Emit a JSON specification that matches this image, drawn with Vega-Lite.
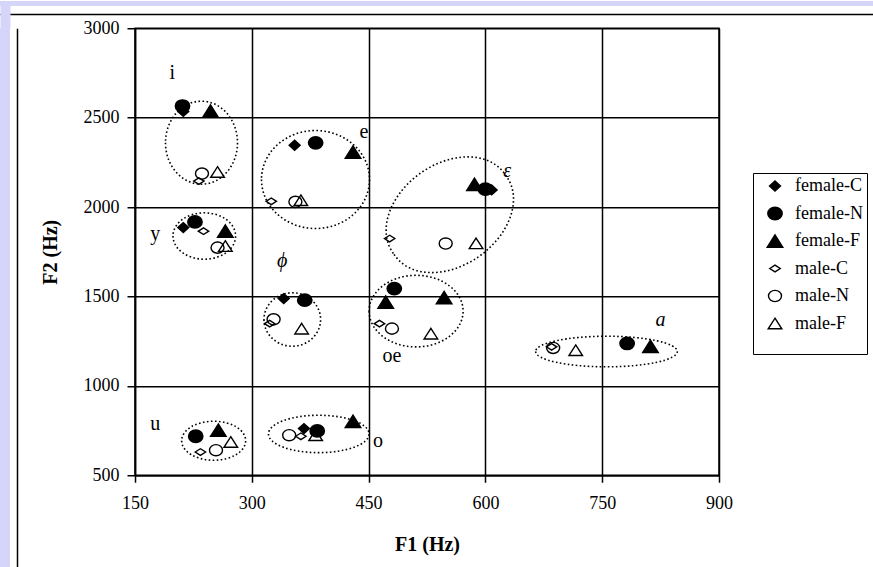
{
  "$schema": "https://vega.github.io/schema/vega-lite/v6.json",
  "background": "white",
  "padding": 0,
  "spacing": -13.75,
  "config": {"view": {"stroke": null}, "font": "Liberation Serif"},
  "datasets": {
    "points": [
      {"vowel": "i", "series": "female-C", "f1": 212, "f2": 2535},
      {"vowel": "i", "series": "female-N", "f1": 211, "f2": 2565},
      {"vowel": "i", "series": "female-F", "f1": 247, "f2": 2537},
      {"vowel": "i", "series": "male-C", "f1": 232, "f2": 2145},
      {"vowel": "i", "series": "male-N", "f1": 236, "f2": 2187},
      {"vowel": "i", "series": "male-F", "f1": 256, "f2": 2196},
      {"vowel": "e", "series": "female-C", "f1": 355, "f2": 2346},
      {"vowel": "e", "series": "female-N", "f1": 382, "f2": 2359},
      {"vowel": "e", "series": "female-F", "f1": 430, "f2": 2308},
      {"vowel": "e", "series": "male-C", "f1": 325, "f2": 2032},
      {"vowel": "e", "series": "male-N", "f1": 356, "f2": 2029},
      {"vowel": "e", "series": "male-F", "f1": 363, "f2": 2038},
      {"vowel": "y", "series": "female-C", "f1": 212, "f2": 1885},
      {"vowel": "y", "series": "female-N", "f1": 227, "f2": 1917},
      {"vowel": "y", "series": "female-F", "f1": 266, "f2": 1866},
      {"vowel": "y", "series": "male-C", "f1": 238, "f2": 1865},
      {"vowel": "y", "series": "male-N", "f1": 256, "f2": 1773},
      {"vowel": "y", "series": "male-F", "f1": 266, "f2": 1782},
      {"vowel": "ε", "series": "female-C", "f1": 608, "f2": 2096},
      {"vowel": "ε", "series": "female-N", "f1": 600, "f2": 2100},
      {"vowel": "ε", "series": "female-F", "f1": 586, "f2": 2127},
      {"vowel": "ε", "series": "male-C", "f1": 477, "f2": 1824},
      {"vowel": "ε", "series": "male-N", "f1": 549, "f2": 1796},
      {"vowel": "ε", "series": "male-F", "f1": 588, "f2": 1797},
      {"vowel": "ϕ", "series": "female-C", "f1": 341, "f2": 1488},
      {"vowel": "ϕ", "series": "female-N", "f1": 368, "f2": 1479},
      {"vowel": "ϕ", "series": "male-C", "f1": 323, "f2": 1348},
      {"vowel": "ϕ", "series": "male-N", "f1": 328, "f2": 1372},
      {"vowel": "ϕ", "series": "male-F", "f1": 364, "f2": 1320},
      {"vowel": "oe", "series": "female-N", "f1": 483, "f2": 1544},
      {"vowel": "oe", "series": "female-F", "f1": 472, "f2": 1469},
      {"vowel": "oe", "series": "female-F", "f1": 547, "f2": 1494},
      {"vowel": "oe", "series": "male-C", "f1": 464, "f2": 1348},
      {"vowel": "oe", "series": "male-N", "f1": 480, "f2": 1320},
      {"vowel": "oe", "series": "male-F", "f1": 530, "f2": 1292},
      {"vowel": "a", "series": "male-C", "f1": 685, "f2": 1218},
      {"vowel": "a", "series": "male-N", "f1": 687, "f2": 1212},
      {"vowel": "a", "series": "male-F", "f1": 716, "f2": 1199},
      {"vowel": "a", "series": "female-N", "f1": 782, "f2": 1237},
      {"vowel": "a", "series": "female-F", "f1": 812, "f2": 1221},
      {"vowel": "u", "series": "female-N", "f1": 228, "f2": 718},
      {"vowel": "u", "series": "female-F", "f1": 257, "f2": 752},
      {"vowel": "u", "series": "male-C", "f1": 234, "f2": 630},
      {"vowel": "u", "series": "male-N", "f1": 254, "f2": 640},
      {"vowel": "u", "series": "male-F", "f1": 273, "f2": 686},
      {"vowel": "o", "series": "female-C", "f1": 367, "f2": 761},
      {"vowel": "o", "series": "female-N", "f1": 384, "f2": 748},
      {"vowel": "o", "series": "female-F", "f1": 430, "f2": 802},
      {"vowel": "o", "series": "male-C", "f1": 363, "f2": 718},
      {"vowel": "o", "series": "male-N", "f1": 348, "f2": 724},
      {"vowel": "o", "series": "male-F", "f1": 382, "f2": 724}
    ],
    "ellipses": [
      {"vowel": "i", "f1": 235.4, "f2": 2360},
      {"vowel": "e", "f1": 381.8, "f2": 2154},
      {"vowel": "y", "f1": 239, "f2": 1838},
      {"vowel": "ε", "f1": 554.3, "f2": 1957},
      {"vowel": "ϕ", "f1": 352, "f2": 1371},
      {"vowel": "oe", "f1": 511, "f2": 1418},
      {"vowel": "a", "f1": 755.5, "f2": 1192},
      {"vowel": "u", "f1": 251, "f2": 693},
      {"vowel": "o", "f1": 386, "f2": 731}
    ],
    "labels": [
      {"label": "i", "f1": 198, "f2": 2747},
      {"label": "e", "f1": 444, "f2": 2420},
      {"label": "ε", "f1": 628, "f2": 2204},
      {"label": "y", "f1": 176, "f2": 1852},
      {"label": "ϕ", "f1": 339, "f2": 1699},
      {"label": "oe", "f1": 480, "f2": 1165},
      {"label": "a", "f1": 825, "f2": 1367},
      {"label": "u", "f1": 176, "f2": 785},
      {"label": "o", "f1": 462, "f2": 692}
    ]
  },
  "vconcat": [
    {
      "width": 873, "height": 5,
      "data": {"values": []},
      "mark": "point",
      "encoding": {
        "x": {"field": "u", "type": "quantitative", "scale": {"domain": [0, 1]},
              "axis": {"orient": "bottom", "offset": 8, "domainColor": "black", "domainWidth": 1.5,
                       "ticks": false, "labels": false, "grid": false, "title": null}}
      },
      "view": {"fill": "#d5d5fa", "stroke": null}
    },
    {
      "concat": [
        {
          "width": 10, "height": 562,
          "data": {"values": []},
          "mark": "point",
          "encoding": {
            "x": {"field": "u", "type": "quantitative", "scale": {"domain": [0, 1]},
                  "axis": {"orient": "top", "values": [0.5], "tickSize": 23, "tickWidth": 10, "tickColor": "#d5d5fa",
                           "labels": false, "domain": false, "grid": false, "title": null}},
            "y": {"field": "w", "type": "quantitative", "scale": {"domain": [0, 1]},
                  "axis": {"orient": "right", "offset": 7, "domainColor": "black", "domainWidth": 1.5,
                           "ticks": false, "labels": false, "grid": false, "title": null}}
          },
          "view": {"fill": "#d5d5fa", "stroke": null}
        },
        {
          "width": 584, "height": 447,
          "title": {"text": " ", "fontSize": 10, "offset": 8},
          "view": {"stroke": "black", "strokeWidth": 1.5},
          "encoding": {
            "x": {
              "field": "f1", "type": "quantitative",
              "scale": {"domain": [150, 900], "nice": false, "zero": false},
              "axis": {
                "title": "F1 (Hz)", "values": [150, 300, 450, 600, 750, 900], "format": "d",
                "grid": true, "gridColor": "black", "gridWidth": 1.5, "gridOpacity": 1,
                "domainColor": "black", "domainWidth": 1.5,
                "tickColor": "black", "tickWidth": 1.5, "tickSize": 7,
                "labelFont": "Liberation Serif", "labelFontSize": 18, "labelColor": "black",
                "labelPadding": 12, "labelFlush": false, "labelOverlap": false,
                "titleFont": "Liberation Serif", "titleFontSize": 20, "titleFontWeight": "bold",
                "titleColor": "black", "titlePadding": 22
              }
            },
            "y": {
              "field": "f2", "type": "quantitative",
              "scale": {"domain": [500, 3000], "nice": false, "zero": false},
              "axis": {
                "title": "F2 (Hz)", "values": [500, 1000, 1500, 2000, 2500, 3000], "format": "d",
                "grid": true, "gridColor": "black", "gridWidth": 1.5, "gridOpacity": 1,
                "domainColor": "black", "domainWidth": 1.5,
                "tickColor": "black", "tickWidth": 1.5, "tickSize": 8,
                "labelFont": "Liberation Serif", "labelFontSize": 18, "labelColor": "black",
                "labelPadding": 8, "labelFlush": false, "labelOverlap": false,
                "titleFont": "Liberation Serif", "titleFontSize": 20, "titleFontWeight": "bold",
                "titleColor": "black", "titlePadding": 23
              }
            }
          },
          "layer": [
            {"data": {"name": "ellipses"}, "transform": [{"filter": "datum.vowel === 'i'"}],
             "mark": {"type": "point", "filled": false, "stroke": "black", "strokeWidth": 1.6, "strokeDash": [1.6, 2.4], "size": 4, "opacity": 1,
                      "shape": "M-36 0A36 41.5 0 1 0 36 0A36 41.5 0 1 0 -36 0Z"}},
            {"data": {"name": "ellipses"}, "transform": [{"filter": "datum.vowel === 'e'"}],
             "mark": {"type": "point", "filled": false, "stroke": "black", "strokeWidth": 1.6, "strokeDash": [1.6, 2.4], "size": 4, "opacity": 1,
                      "shape": "M-54 0A54 49 0 1 0 54 0A54 49 0 1 0 -54 0Z"}},
            {"data": {"name": "ellipses"}, "transform": [{"filter": "datum.vowel === 'y'"}],
             "mark": {"type": "point", "filled": false, "stroke": "black", "strokeWidth": 1.6, "strokeDash": [1.6, 2.4], "size": 4, "opacity": 1,
                      "shape": "M-31.3 0A31.3 23.2 0 1 0 31.3 0A31.3 23.2 0 1 0 -31.3 0Z"}},
            {"data": {"name": "ellipses"}, "transform": [{"filter": "datum.vowel === 'ε'"}],
             "mark": {"type": "point", "filled": false, "stroke": "black", "strokeWidth": 1.6, "strokeDash": [1.6, 2.4], "size": 4, "opacity": 1,
                      "shape": "M-55.7 39.6A68.4 48.9 -35.4 1 0 55.7 -39.6A68.4 48.9 -35.4 1 0 -55.7 39.6Z"}},
            {"data": {"name": "ellipses"}, "transform": [{"filter": "datum.vowel === 'ϕ'"}],
             "mark": {"type": "point", "filled": false, "stroke": "black", "strokeWidth": 1.6, "strokeDash": [1.6, 2.4], "size": 4, "opacity": 1,
                      "shape": "M-28.3 0A28.3 26.7 0 1 0 28.3 0A28.3 26.7 0 1 0 -28.3 0Z"}},
            {"data": {"name": "ellipses"}, "transform": [{"filter": "datum.vowel === 'oe'"}],
             "mark": {"type": "point", "filled": false, "stroke": "black", "strokeWidth": 1.6, "strokeDash": [1.6, 2.4], "size": 4, "opacity": 1,
                      "shape": "M-47 0A47 35.8 0 1 0 47 0A47 35.8 0 1 0 -47 0Z"}},
            {"data": {"name": "ellipses"}, "transform": [{"filter": "datum.vowel === 'a'"}],
             "mark": {"type": "point", "filled": false, "stroke": "black", "strokeWidth": 1.6, "strokeDash": [1.6, 2.4], "size": 4, "opacity": 1,
                      "shape": "M-70.8 0A70.8 15.3 0 1 0 70.8 0A70.8 15.3 0 1 0 -70.8 0Z"}},
            {"data": {"name": "ellipses"}, "transform": [{"filter": "datum.vowel === 'u'"}],
             "mark": {"type": "point", "filled": false, "stroke": "black", "strokeWidth": 1.6, "strokeDash": [1.6, 2.4], "size": 4, "opacity": 1,
                      "shape": "M-32 0A32 19.5 0 1 0 32 0A32 19.5 0 1 0 -32 0Z"}},
            {"data": {"name": "ellipses"}, "transform": [{"filter": "datum.vowel === 'o'"}],
             "mark": {"type": "point", "filled": false, "stroke": "black", "strokeWidth": 1.6, "strokeDash": [1.6, 2.4], "size": 4, "opacity": 1,
                      "shape": "M-50.3 0A50.3 18.7 0 1 0 50.3 0A50.3 18.7 0 1 0 -50.3 0Z"}},
            {
              "data": {"name": "points"},
              "mark": {"type": "point", "size": 4, "opacity": 1, "strokeWidth": 1.4},
              "encoding": {
                "shape": {
                  "field": "series", "type": "nominal",
                  "scale": {
                    "domain": ["female-C", "female-N", "female-F", "male-C", "male-N", "male-F"],
                    "range": [
                      "M-5.5 0L0 -5L5.5 0L0 5Z",
                      "M-7.2 0A7.2 6.2 0 1 0 7.2 0A7.2 6.2 0 1 0 -7.2 0Z",
                      "M0 -6.2L7.8 6.2L-7.8 6.2Z",
                      "M-5.2 0L0 -3.3L5.2 0L0 3.3Z",
                      "M-6.5 0A6.5 5.6 0 1 0 6.5 0A6.5 5.6 0 1 0 -6.5 0Z",
                      "M0 -5.3L6.8 5.3L-6.8 5.3Z"
                    ]
                  },
                  "legend": {
                    "title": " ", "orient": "none", "legendX": 753, "legendY": 172,
                    "strokeColor": "black", "padding": 4,
                    "labelFont": "Liberation Serif", "labelFontSize": 18, "labelColor": "black",
                    "rowPadding": 9.5, "symbolSize": 4, "symbolOffset": 9, "labelOffset": 11,
                    "symbolStrokeWidth": 1.4,
                    "titleOrient": "bottom", "titleFontSize": 10, "titlePadding": 7
                  }
                },
                "fill": {
                  "field": "series", "type": "nominal",
                  "scale": {
                    "domain": ["female-C", "female-N", "female-F", "male-C", "male-N", "male-F"],
                    "range": ["black", "black", "black", "transparent", "transparent", "transparent"]
                  },
                  "legend": {
                    "title": " ", "orient": "none", "legendX": 753, "legendY": 172,
                    "strokeColor": "black", "padding": 4,
                    "labelFont": "Liberation Serif", "labelFontSize": 18, "labelColor": "black",
                    "rowPadding": 9.5, "symbolSize": 4, "symbolOffset": 9, "labelOffset": 11,
                    "symbolStrokeWidth": 1.4,
                    "titleOrient": "bottom", "titleFontSize": 10, "titlePadding": 7
                  }
                },
                "stroke": {
                  "field": "series", "type": "nominal",
                  "scale": {
                    "domain": ["female-C", "female-N", "female-F", "male-C", "male-N", "male-F"],
                    "range": ["black", "black", "black", "black", "black", "black"]
                  },
                  "legend": {
                    "title": " ", "orient": "none", "legendX": 753, "legendY": 172,
                    "strokeColor": "black", "padding": 4,
                    "labelFont": "Liberation Serif", "labelFontSize": 18, "labelColor": "black",
                    "rowPadding": 9.5, "symbolSize": 4, "symbolOffset": 9, "labelOffset": 11,
                    "symbolStrokeWidth": 1.4,
                    "titleOrient": "bottom", "titleFontSize": 10, "titlePadding": 7
                  }
                }
              }
            },
            {
              "data": {"name": "labels"},
              "transform": [{"filter": {"not": {"field": "label", "oneOf": ["ε", "ϕ", "a"]}}}],
              "mark": {"type": "text", "font": "Liberation Serif", "fontSize": 20, "color": "black", "baseline": "middle", "align": "center"},
              "encoding": {"text": {"field": "label", "type": "nominal"}}
            },
            {
              "data": {"name": "labels"},
              "transform": [{"filter": {"field": "label", "oneOf": ["ε", "ϕ", "a"]}}],
              "mark": {"type": "text", "font": "Liberation Serif", "fontSize": 20, "fontStyle": "italic", "color": "black", "baseline": "middle", "align": "center"},
              "encoding": {"text": {"field": "label", "type": "nominal"}}
            }
          ]
        }
      ],
      "columns": 2,
      "align": "none",
      "spacing": 22
    }
  ]
}
